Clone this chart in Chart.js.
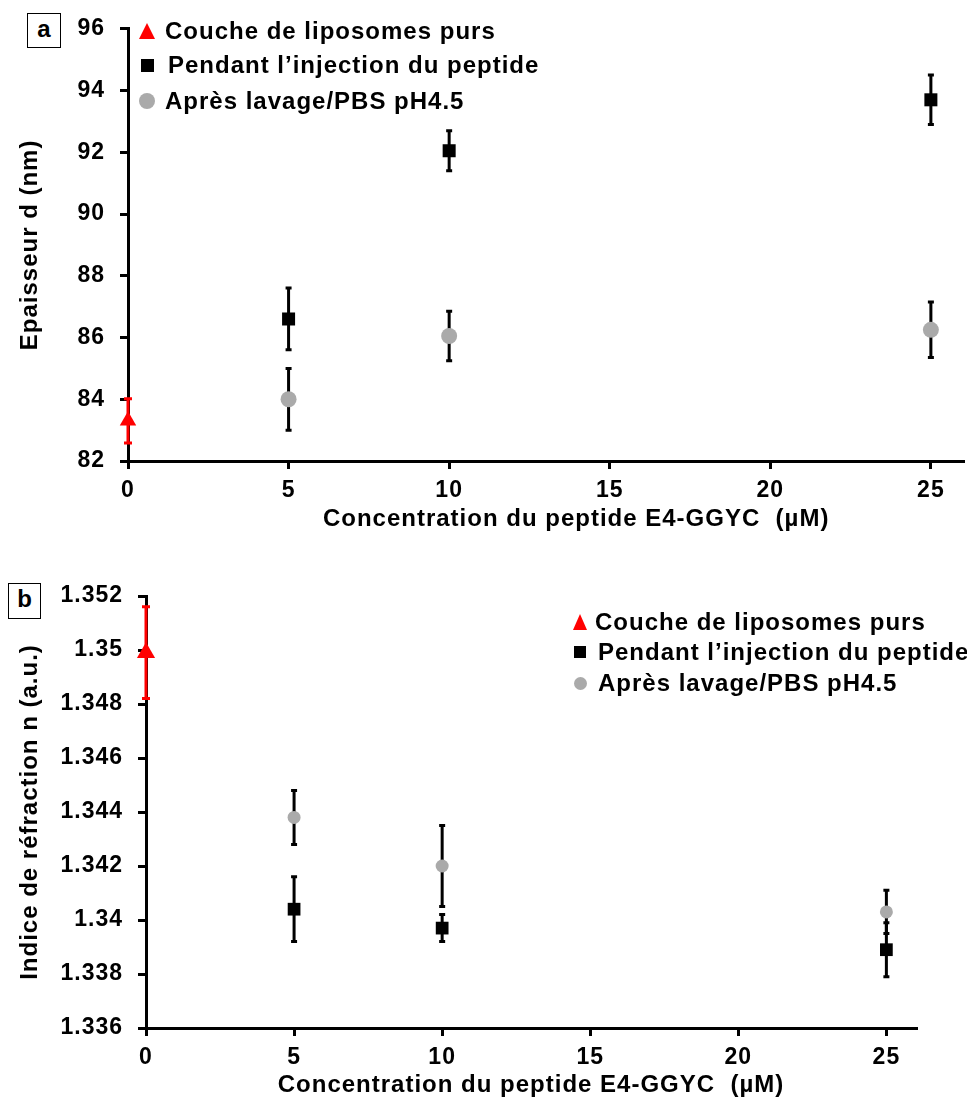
<!DOCTYPE html>
<html>
<head>
<meta charset="utf-8">
<script src="https://cdn.jsdelivr.net/npm/chart.js@4.4.1/dist/chart.umd.min.js"></script>
<style>
  body { margin: 0; background: #fff; font-family: "Liberation Sans", Arial, sans-serif; font-weight: bold; }
  #page { position: relative; width: 967px; height: 1106px; overflow: hidden; }
  .panel { position: absolute; left: 0; width: 967px; }
  .tag { position: absolute; border: 1.5px solid #000; box-sizing: border-box; font-size: 24px; line-height: 30px; text-align: center; background: #fff; }
  .legtext { position: absolute; font-size: 24px; letter-spacing: 1px; white-space: nowrap; line-height: 30px; }
  .mk { position: absolute; }
</style>
</head>
<body>
<div id="page">
  <div class="panel" style="top:0;height:540px"><canvas id="chartA"></canvas></div>
  <div class="panel" style="top:560px;height:546px"><canvas id="chartB"></canvas></div>
  <div class="tag" style="left:27px;top:13px;width:34px;height:35px">a</div>
  <div class="tag" style="left:8px;top:583px;width:33px;height:36px">b</div>
  <div id="legA"></div>
  <div id="legB"></div>
</div>
<script>
// concentrations (µM)
const pureX = [0];
const concentrations = [5, 10, 25];
const seriesNames = ['Couche de liposomes purs', 'Pendant l\u2019injection du peptide', 'Apr\u00e8s lavage/PBS pH4.5'];
const xTitle = 'Concentration du peptide E4-GGYC  (\u00b5M)';

// (a) thickness d (nm)
const thickPure = [83.3];
const thickPureErr = [0.72];
const thickDuring = [86.6, 92.05, 93.7];
const thickDuringErr = [1.0, 0.65, 0.8];
const thickAfter = [84.0, 86.05, 86.25];
const thickAfterErr = [1.0, 0.8, 0.9];

// (b) refractive index n
const indexPure = [1.3499];
const indexPureErr = [0.0017];
const indexDuring = [1.3404, 1.3397, 1.3389];
const indexDuringErr = [0.0012, 0.0005, 0.001];
const indexAfter = [1.3438, 1.342, 1.3403];
const indexAfterErr = [0.001, 0.0015, 0.0008];

const RED = '#ff0000';
const GREY = '#aaaaaa';
const tickFont = { family: '"Liberation Sans", Arial, sans-serif', size: 23, weight: 'bold' };
const titleFont = { family: '"Liberation Sans", Arial, sans-serif', size: 24, weight: 'bold' };

const pts = (xs, ys) => xs.map((x, i) => ({ x: x, y: ys[i] }));

// draws vertical error bars with the chart's own scales
const errorBars = {
  id: 'errorBars',
  beforeDraw(chart) {
    chart.ctx.letterSpacing = '1px';
  },
  beforeDatasetsDraw(chart) {
    const { ctx, scales: { x, y } } = chart;
    chart.data.datasets.forEach((ds, i) => {
      if (!ds.errors) return;
      ctx.save();
      ctx.strokeStyle = ds.errorColor;
      ctx.lineWidth = 3;
      ds.data.forEach((p, j) => {
        const e = ds.errors[j];
        const px = x.getPixelForValue(p.x);
        const top = y.getPixelForValue(p.y + e);
        const bot = y.getPixelForValue(p.y - e);
        const c = ds.capHalf;
        ctx.beginPath();
        ctx.moveTo(px, top); ctx.lineTo(px, bot);
        ctx.moveTo(px - c, top); ctx.lineTo(px + c, top);
        ctx.moveTo(px - c, bot); ctx.lineTo(px + c, bot);
        ctx.stroke();
      });
      ctx.restore();
    });
  }
};

function makeChart(id, cfg) {
  return new Chart(document.getElementById(id), {
    type: 'scatter',
    data: {
      datasets: [
        { label: seriesNames[0], data: pts(pureX, cfg.pure), errors: cfg.pureErr, errorColor: RED, capHalf: 4,
          pointStyle: 'triangle', pointRadius: cfg.triR, backgroundColor: RED, borderColor: RED, borderWidth: 0, clip: false },
        { label: seriesNames[1], data: pts(concentrations, cfg.during), errors: cfg.duringErr, errorColor: '#000', capHalf: 3,
          pointStyle: 'rect', pointRadius: cfg.sqR, backgroundColor: '#000', borderColor: '#000', borderWidth: 0, clip: false },
        { label: seriesNames[2], data: pts(concentrations, cfg.after), errors: cfg.afterErr, errorColor: '#000', capHalf: 3,
          pointStyle: 'circle', pointRadius: cfg.circR, backgroundColor: GREY, borderColor: GREY, borderWidth: 0, clip: false }
      ]
    },
    options: {
      responsive: true,
      maintainAspectRatio: false,
      animation: false,
      events: [],
      layout: { padding: cfg.padding, autoPadding: false },
      plugins: { legend: { display: false }, tooltip: { enabled: false } },
      scales: {
        x: {
          type: 'linear', min: 0, max: 26,
          afterFit: (s) => { s.height = cfg.xHeight; },
          border: { display: true, color: '#000', width: 3 },
          grid: { drawOnChartArea: false, drawTicks: true, tickLength: 8, color: '#000', lineWidth: 3 },
          ticks: { stepSize: 5, includeBounds: false, color: '#000', font: tickFont, padding: 8, maxRotation: 0 },
          title: { display: true, text: cfg.xTitle, color: '#000', font: titleFont, padding: { top: 0, bottom: 6 } }
        },
        y: {
          min: cfg.yMin, max: cfg.yMax,
          afterFit: (s) => { s.width = cfg.yWidth; },
          border: { display: true, color: '#000', width: 3 },
          grid: { drawOnChartArea: false, drawTicks: true, tickLength: 8, color: '#000', lineWidth: 3 },
          ticks: { stepSize: cfg.yStep, color: '#000', font: tickFont, padding: 15,
            callback: (v) => String(Number(v.toFixed(3))) },
          title: { display: true, text: cfg.yTitle, color: '#000', font: titleFont, padding: { top: 16, bottom: 0 } }
        }
      }
    },
    plugins: [errorBars]
  });
}

makeChart('chartA', {
  pure: thickPure, pureErr: thickPureErr, during: thickDuring, duringErr: thickDuringErr,
  after: thickAfter, afterErr: thickAfterErr,
  yMin: 82, yMax: 96, yStep: 2, yTitle: 'Epaisseur d (nm)',
  xTitle: '        ' + xTitle,
  padding: { left: 0, right: 4, top: 25, bottom: 0 }, xHeight: 79, yWidth: 128,
  triR: 9.5, sqR: 9.2, circR: 8
});

makeChart('chartB', {
  pure: indexPure, pureErr: indexPureErr, during: indexDuring, duringErr: indexDuringErr,
  after: indexAfter, afterErr: indexAfterErr,
  yMin: 1.336, yMax: 1.352, yStep: 0.002, yTitle: 'Indice de r\u00e9fraction n (a.u.)',
  xTitle: xTitle,
  padding: { left: 0, right: 51, top: 36, bottom: 0 }, xHeight: 78, yWidth: 146,
  triR: 10.5, sqR: 9, circR: 6.5
});

// legends
function buildLegend(id, x, textX, rowYs, sizes) {
  const box = document.getElementById(id);
  const markers = [
    `border-left:${sizes.tri / 2}px solid transparent;border-right:${sizes.tri / 2}px solid transparent;border-bottom:${sizes.triH}px solid ${RED};width:0;height:0`,
    `width:${sizes.sq}px;height:${sizes.sq}px;background:#000`,
    `width:${sizes.circ}px;height:${sizes.circ}px;border-radius:50%;background:${GREY}`
  ];
  const dims = [[sizes.tri, sizes.triH], [sizes.sq, sizes.sq], [sizes.circ, sizes.circ]];
  seriesNames.forEach((name, i) => {
    const m = document.createElement('div');
    m.className = 'mk';
    m.style.cssText = markers[i];
    m.style.left = (x - dims[i][0] / 2) + 'px';
    m.style.top = (rowYs[i] - dims[i][1] / 2) + 'px';
    box.appendChild(m);
    const t = document.createElement('div');
    t.className = 'legtext';
    t.textContent = name;
    t.style.left = textX[i] + 'px';
    t.style.top = (rowYs[i] - 15) + 'px';
    box.appendChild(t);
  });
}
buildLegend('legA', 147, [165, 168, 165], [31, 65, 101], { tri: 16, triH: 16, sq: 13, circ: 16 });
buildLegend('legB', 580, [595, 598, 598], [622, 652, 683], { tri: 14, triH: 16, sq: 12, circ: 13 });
</script>
</body>
</html>
